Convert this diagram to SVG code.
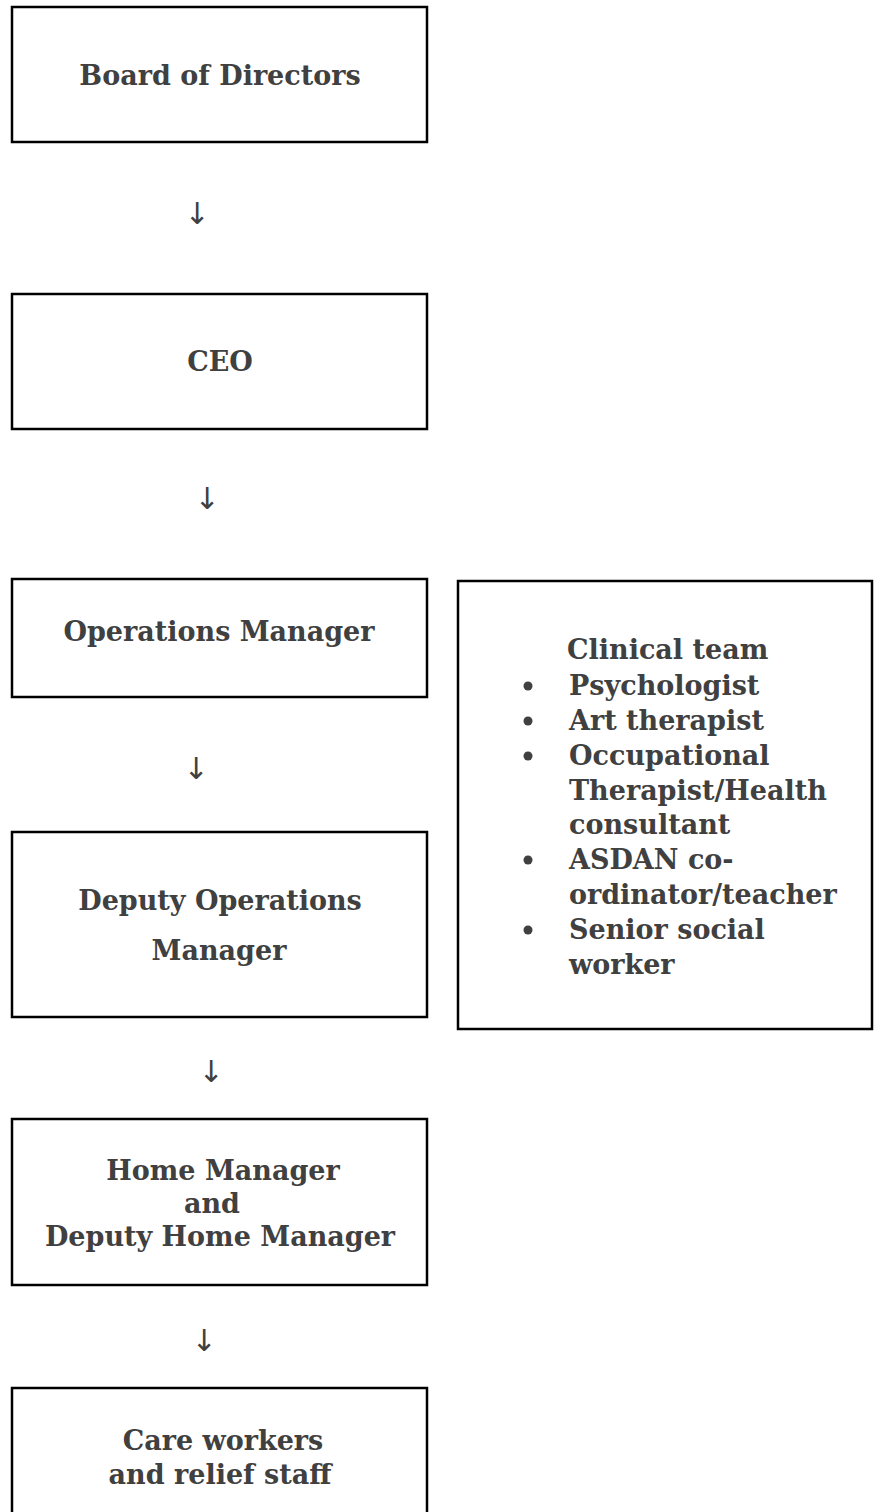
<svg xmlns="http://www.w3.org/2000/svg" width="879" height="1512" viewBox="0 0 879 1512">
<style>
.box{fill:#fff;stroke:#000;stroke-width:2.5}
.t{font-family:"DejaVu Serif","Liberation Serif",serif;font-weight:bold;font-size:27px;fill:#404040;text-anchor:middle}
.l{font-family:"DejaVu Serif","Liberation Serif",serif;font-weight:bold;font-size:27px;fill:#404040}
.arr{font-family:"DejaVu Sans","Liberation Sans",sans-serif;font-size:30px;fill:#404040;text-anchor:middle}
</style>
<rect width="879" height="1512" fill="#fff"/>
<g id="board"><rect class="box" x="12" y="7" width="415" height="135"/><text class="t" x="220" y="85">Board of Directors</text></g>
<g id="ceo"><rect class="box" x="12" y="294" width="415" height="135"/><text class="t" x="220" y="371">CEO</text></g>
<g id="ops"><rect class="box" x="12" y="579" width="415" height="118"/><text class="t" x="219" y="641">Operations Manager</text></g>
<g id="deputy"><rect class="box" x="12" y="832" width="415" height="185"/><text class="t" x="220" y="910">Deputy Operations</text><text class="t" x="219" y="960">Manager</text></g>
<g id="home"><rect class="box" x="12" y="1119" width="415" height="166"/><text class="t" x="223" y="1180">Home Manager</text><text class="t" x="212" y="1213">and</text><text class="t" x="220" y="1246">Deputy Home Manager</text></g>
<g id="care"><rect class="box" x="12" y="1388" width="415" height="140"/><text class="t" x="223" y="1450">Care workers</text><text class="t" x="220" y="1484">and relief staff</text></g>
<g id="clinical"><rect class="box" x="458" y="581" width="414" height="448"/>
<text class="l" x="567" y="659">Clinical team</text>
<g fill="#404040"><circle cx="528" cy="686" r="4.5"/><circle cx="528" cy="721" r="4.5"/><circle cx="528" cy="756" r="4.5"/><circle cx="528" cy="860" r="4.5"/><circle cx="528" cy="930" r="4.5"/></g>
<text class="l" x="569" y="695">Psychologist</text>
<text class="l" x="569" y="730">Art therapist</text>
<text class="l" x="569" y="765">Occupational</text>
<text class="l" x="569" y="800">Therapist/Health</text>
<text class="l" x="569" y="834">consultant</text>
<text class="l" x="569" y="869">ASDAN co-</text>
<text class="l" x="569" y="904">ordinator/teacher</text>
<text class="l" x="569" y="939">Senior social</text>
<text class="l" x="569" y="974">worker</text>
</g>
<g id="connectors">
<text class="arr" x="197" y="224">↓</text>
<text class="arr" x="207" y="509">↓</text>
<text class="arr" x="196" y="779">↓</text>
<text class="arr" x="211" y="1082">↓</text>
<text class="arr" x="204" y="1351">↓</text>
</g>
</svg>
